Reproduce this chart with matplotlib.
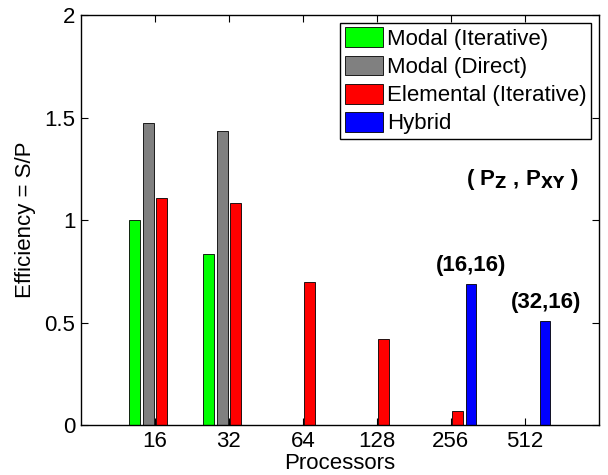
import numpy as np
import matplotlib.pyplot as plt

plt.rcParams['font.family'] = ['Liberation Sans', 'DejaVu Sans']

# datos
procesadores = ['16', '32', '64', '128', '256', '512']
modal_iter = [1.0, 0.833, 0, 0, 0, 0]
modal_direct = [1.473, 1.437, 0, 0, 0, 0]
elemental_iter = [1.109, 1.086, 0.699, 0.421, 0.068, 0]
hybrid = [0, 0, 0, 0, 0.689, 0.506]

series = [modal_iter, modal_direct, elemental_iter, hybrid]
nombres = ['Modal (Iterative)', 'Modal (Direct)', 'Elemental (Iterative)', 'Hybrid']
colores = ['#00ff00', '#808080', '#ff0000', '#0000ff']

fig = plt.figure(figsize=(6.08, 4.75), dpi=100)
ax = fig.add_axes([0.133, 0.105, 0.852, 0.863])

x = np.arange(1, len(procesadores) + 1)
ancho_grupo = 4 / 5.5
slot = ancho_grupo / 4
for i, (vals, nom, col) in enumerate(zip(series, nombres, colores)):
    off = (i - 1.5) * slot
    ax.bar(x + off, vals, width=slot * 0.8, color=col, edgecolor='black',
           linewidth=0.6, label=nom)

ax.set_xlim(0, 7)
ax.set_ylim(0, 2)
ax.set_xticks(x)
ax.set_xticklabels(procesadores)
ax.set_yticks([0, 0.5, 1, 1.5, 2])
ax.set_yticklabels(['0', '0.5', '1', '1.5', '2'])
ax.tick_params(direction='in', top=True, right=True, labelsize=16, length=5, pad=4)
for s in ax.spines.values():
    s.set_linewidth(1.0)

ax.set_xlabel('Processors', fontsize=16, labelpad=1)
ax.set_ylabel('Efficiency = S/P', fontsize=16, labelpad=6)

# anotaciones
ax.text(5.27, 0.78, '(16,16)', ha='center', va='center', fontsize=16, fontweight='bold')
ax.text(6.28, 0.6, '(32,16)', ha='center', va='center', fontsize=16, fontweight='bold')
ax.text(5.97, 1.2, r'( P$_{\mathbf{Z}}$ , P$_{\mathbf{XY}}$ )', ha='center', va='center',
        fontsize=16, fontweight='bold')

leg = ax.legend(loc='upper right', fontsize=16, frameon=True, fancybox=False,
                edgecolor='black', framealpha=1, borderpad=0.2, labelspacing=0.25,
                handlelength=1.7, handleheight=1.0, handletextpad=0.2,
                borderaxespad=0.35)
leg.get_frame().set_linewidth(1.0)

plt.savefig('out.png', dpi=100)
